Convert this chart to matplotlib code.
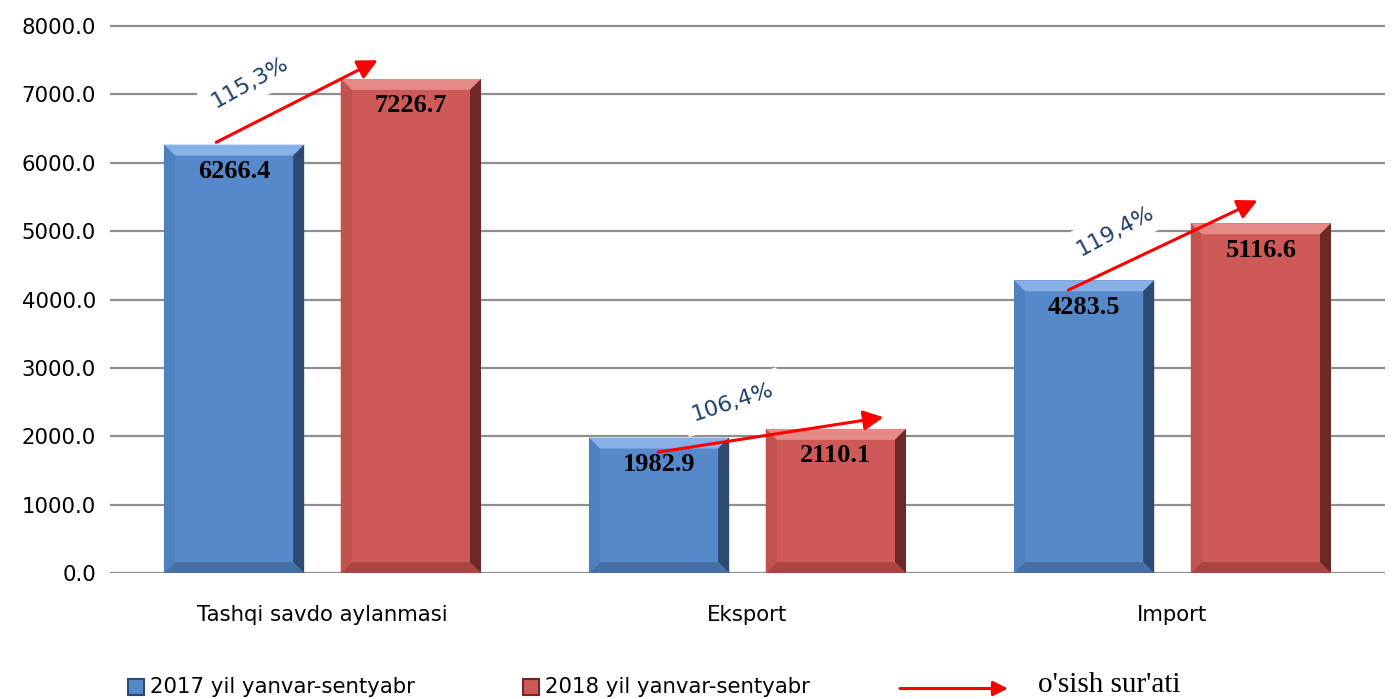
import numpy as np
import matplotlib.pyplot as plt
from matplotlib.patches import Polygon, Rectangle

categories = ['Tashqi savdo aylanmasi', 'Eksport', 'Import']
v2017 = [6266.4, 1982.9, 4283.5]
v2018 = [7226.7, 2110.1, 5116.6]
growth = ['115,3%', '106,4%', '119,4%']
series = ['2017 yil yanvar-sentyabr', '2018 yil yanvar-sentyabr']
arrow_label = "o'sish sur'ati"

# layout only: arrow ends (relative to group centre) and percent label spots
arrow_start = [(-0.25, 6300), (-0.21, 1770), (-0.245, 4140)]
arrow_end = [(0.13, 7500), (0.32, 2280), (0.20, 5450)]
pct_pos = [(-0.17, 7180, 29), (-0.035, 2500, 18), (-0.135, 5010, 28)]

blue = dict(face='#5689C9', top='#86B0E6', right='#2C4A73', bottom='#4470A6', left='#4F80C0')
red = dict(face='#CD5A56', top='#E68A87', right='#6E2927', bottom='#A8453F', left='#C2524E')

fig = plt.figure(figsize=(13.97, 6.99), dpi=100)
ax = fig.add_axes([0.0787, 0.18, 0.9127, 0.7925])
ax.set_xlim(-0.5, 2.5)
ax.set_ylim(0, 8100)

x = np.arange(len(categories))
w = 0.33
off = 0.208

b1 = ax.bar(x - off, v2017, w, color=blue['face'], zorder=2)
b2 = ax.bar(x + off, v2018, w, color=red['face'], zorder=2)

# bevel size in data units (about 11 px)
p0 = ax.transData.inverted().transform((0, 0))
p1 = ax.transData.inverted().transform((11, 11))
bx, by = p1[0] - p0[0], p1[1] - p0[1]


def bevel(bars, c):
    for r in bars:
        x0, x1 = r.get_x(), r.get_x() + r.get_width()
        y0, y1 = 0, r.get_height()
        sides = [
            ([(x0, y1), (x1, y1), (x1 - bx, y1 - by), (x0 + bx, y1 - by)], c['top']),
            ([(x1, y1), (x1, y0), (x1 - bx, y0 + by), (x1 - bx, y1 - by)], c['right']),
            ([(x0, y0), (x1, y0), (x1 - bx, y0 + by), (x0 + bx, y0 + by)], c['bottom']),
            ([(x0, y0), (x0, y1), (x0 + bx, y1 - by), (x0 + bx, y0 + by)], c['left']),
        ]
        for pts, col in sides:
            ax.add_patch(Polygon(pts, closed=True, fc=col, ec='none', zorder=3))


bevel(b1, blue)
bevel(b2, red)

for bars, vals in [(b1, v2017), (b2, v2018)]:
    for r, v in zip(bars, vals):
        ax.annotate('%.1f' % v, (r.get_x() + r.get_width() / 2, v), xytext=(0, -11),
                    textcoords='offset points', ha='center', va='top',
                    fontsize=19, fontweight='bold', family='Liberation Serif', zorder=5)

for i in range(len(categories)):
    s, e = arrow_start[i], arrow_end[i]
    ax.annotate('', xy=(x[i] + e[0], e[1]), xytext=(x[i] + s[0], s[1]),
                arrowprops=dict(arrowstyle='-|>', color='red', lw=2.2, mutation_scale=30,
                                shrinkA=0, shrinkB=0), zorder=6)
    px, py, ang = pct_pos[i]
    ax.text(x[i] + px, py, growth[i], rotation=ang, ha='center', va='center',
            fontsize=16, color='#1F3D6B', zorder=4,
            bbox=dict(fc='white', ec='none', pad=7))

ax.set_xticks(x)
ax.set_xticklabels(categories, fontsize=15.3)
ax.set_yticks(np.arange(0, 8001, 1000))
ax.set_yticklabels(['%.1f' % t for t in np.arange(0, 8001, 1000)], fontsize=15.3)
ax.tick_params(axis='x', length=0, pad=23)
ax.tick_params(axis='y', length=0, pad=10)
ax.yaxis.grid(True, color='#8f8f8f', lw=1.6)
ax.set_axisbelow(True)
for sp in ax.spines.values():
    sp.set_visible(False)

# legend row along the bottom
ly = 0.017
fig.patches.append(Rectangle((128 / 1397, ly - 0.011), 16 / 1397, 16 / 699, transform=fig.transFigure,
                             fc=blue['face'], ec=blue['right'], lw=1.5))
fig.text(150 / 1397, ly, series[0], fontsize=15.3, va='center')
fig.patches.append(Rectangle((523 / 1397, ly - 0.011), 16 / 1397, 16 / 699, transform=fig.transFigure,
                             fc=red['face'], ec=red['right'], lw=1.5))
fig.text(545 / 1397, ly, series[1], fontsize=15.3, va='center')
ax.annotate('', xy=(1008 / 1397, ly - 0.002), xytext=(900 / 1397, ly - 0.002),
            xycoords='figure fraction', textcoords='figure fraction',
            arrowprops=dict(arrowstyle='-|>', color='red', lw=2.2, mutation_scale=22,
                            shrinkA=0, shrinkB=0), annotation_clip=False)
fig.text(1038 / 1397, 7 / 699, arrow_label, fontsize=21, family='Liberation Serif', va='baseline')

fig.savefig('out.png', dpi=100)
